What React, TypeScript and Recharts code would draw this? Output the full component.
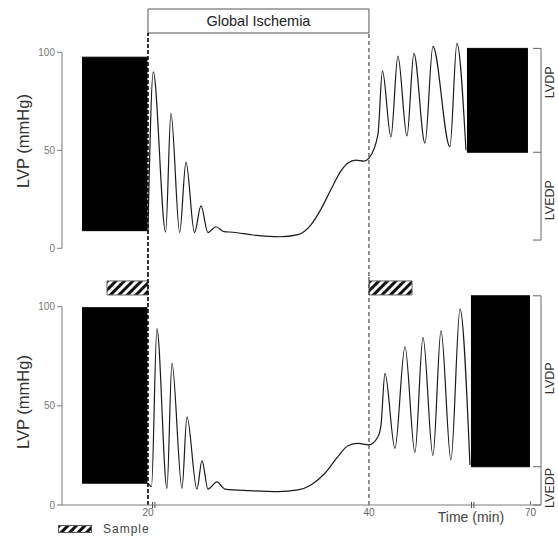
import { Area, ComposedChart, Line, ReferenceArea, ReferenceLine, XAxis, YAxis } from 'recharts';

// Plotted time scale (min). The axis is broken after 40 min, so the "70" tick sits at 54.62 on this scale.
const TIME_DOMAIN: [number, number] = [12.22, 55.57];
const timeTicks = [20, 40, 54.62];
const timeTickLabels = ['20', '40', '70'];
const axisBreaks = [20.52, 49.39];
const lvpTicks = [0, 50, 100];

const ischemia = [20, 40];
const sampleWindows = [
  [16.29, 20],
  [40, 43.9]
];

// dense beating stretches, drawn as a min/max envelope
const topBeatStart = [14.03, 48.87];
const topBeatEnd = [19.95, 54.39];
const topBeatLow = [9, 49];
const topBeatHigh = [97.5, 102];

const bottomBeatStart = [14.03, 49.23];
const bottomBeatEnd = [19.95, 54.57];
const bottomBeatLow = [11, 19.3];
const bottomBeatHigh = [99.5, 105.5];

// single beats through ischemia and early reperfusion (peaks and troughs)
const topTraceTime = [
  20.0, 20.48, 21.6, 22.08, 22.87, 23.44, 24.21, 24.8, 25.43, 26.15, 26.88, 27.69, 29.5, 31.95, 33.57, 34.75,
  35.66, 36.56, 37.47, 38.1, 38.82, 39.55, 40.0, 40.81, 41.22, 41.99, 42.62, 43.44, 44.07, 45.07, 45.79, 47.33,
  47.96, 48.78
];
const topTraceLvp = [
  9, 90, 8.3, 69, 8, 44, 8, 21.6, 8, 11, 8.5, 8.2, 6.8, 5.9, 7, 12, 20, 30, 39.5, 43.5, 45, 44.5, 46, 58, 90.5,
  56.8, 98, 57.3, 99.5, 53.6, 103, 51.8, 104.6, 50
];

const bottomTraceTime = [
  20.0, 20.32, 20.81, 21.72, 22.17, 23.08, 23.53, 24.43, 24.89, 25.43, 26.24, 26.97, 29.23, 31.76, 33.57, 34.75,
  36.02, 37.19, 38.1, 39.0, 40.0, 40.81, 41.09, 41.45, 42.35, 43.26, 44.16, 44.89, 45.79, 46.52, 47.42, 48.24,
  49.14
];
const bottomTraceLvp = [
  11, 9.3, 89, 8.4, 71.5, 8.4, 44.5, 8, 22.4, 8, 11.7, 8, 7.2, 6.7, 7.6, 10.1, 16, 24.4, 29.9, 31.1, 30.3, 34.4,
  40.3, 66.4, 28.6, 79.8, 26.4, 84.5, 24.9, 87.9, 22.7, 98.8, 20.2
];

const FONT = '"Liberation Sans", Arial, Helvetica, sans-serif';
const AXIS_GREY = '#7a7a7a';

function toRows(time: number[], lvp: number[]) {
  return time.map((t, i) => ({ t, lvp: lvp[i] }));
}

function envelopes(start: number[], end: number[], low: number[], high: number[]) {
  return start.map((s, i) => [
    { t: s, lvp: [low[i], high[i]] },
    { t: end[i], lvp: [low[i], high[i]] }
  ]);
}

type PanelProps = {
  top: number;
  height: number;
  marginTop: number;
  yDomain: [number, number];
  trace: { t: number; lvp: number }[];
  beats: { t: number; lvp: number[] }[][];
  bracket: [number, number, number];
  labelShift: [number, number];
  withTimeAxis: boolean;
  boxBottom?: number;
  sampleBar?: [number, number];
  hatchId: string;
};

function Panel(p: PanelProps) {
  const [xMin, xMax] = TIME_DOMAIN;
  const [yMin, yMax] = p.yDomain;
  const [base, edp, sp] = p.bracket;
  const dashTop = p.boxBottom ?? yMax;
  const bracketLabel = { angle: -90, position: 'center' as const, fill: '#333', fontSize: 12.5 };
  return (
    <div style={{ position: 'absolute', left: 0, top: p.top }}>
      <ComposedChart width={558} height={p.height} margin={{ top: p.marginTop, right: 17, bottom: 0, left: 0 }}>
        <defs>
          <pattern id={p.hatchId} width="6" height="6" patternUnits="userSpaceOnUse" patternTransform="rotate(45)">
            <rect width="6" height="6" fill="#fff" />
            <rect width="3" height="6" fill="#111" />
          </pattern>
        </defs>
        <XAxis
          type="number"
          dataKey="t"
          domain={TIME_DOMAIN}
          allowDataOverflow
          hide={!p.withTimeAxis}
          ticks={timeTicks}
          tickFormatter={(v: number) => timeTickLabels[timeTicks.indexOf(v)] ?? ''}
          tick={{ fill: '#666', fontSize: 10 }}
          tickLine={false}
          tickSize={0}
          tickMargin={4}
          axisLine={{ stroke: AXIS_GREY }}
          height={32}
        />
        <YAxis
          type="number"
          domain={p.yDomain}
          allowDataOverflow
          ticks={lvpTicks}
          width={62}
          axisLine={false}
          tickSize={5}
          tickMargin={2}
          tickLine={{ stroke: AXIS_GREY }}
          tick={{ fill: '#777', fontSize: 10 }}
        />
        <ReferenceLine segment={[{ x: xMin, y: 0 }, { x: xMin, y: 100 }]} stroke={AXIS_GREY} ifOverflow="visible" />

        {p.boxBottom !== undefined && (
          <ReferenceArea
            x1={ischemia[0]}
            x2={ischemia[1]}
            y1={p.boxBottom}
            y2={yMax}
            fill="#fff"
            fillOpacity={1}
            stroke="#555"
            ifOverflow="visible"
            label={{ value: 'Global Ischemia', position: 'center', fill: '#222', fontSize: 14.5 }}
          />
        )}
        {p.sampleBar &&
          sampleWindows.map(([a, b]) => (
            <ReferenceArea
              key={a}
              x1={a}
              x2={b}
              y1={p.sampleBar![0]}
              y2={p.sampleBar![1]}
              fill={`url(#${p.hatchId})`}
              fillOpacity={1}
              stroke="#666"
              ifOverflow="visible"
            />
          ))}

        <ReferenceLine
          segment={[{ x: ischemia[0], y: yMin }, { x: ischemia[0], y: dashTop }]}
          stroke="#000"
          strokeWidth={1.6}
          strokeDasharray="4 2"
          ifOverflow="visible"
        />
        <ReferenceLine
          segment={[{ x: ischemia[1], y: yMin }, { x: ischemia[1], y: dashTop }]}
          stroke="#222"
          strokeWidth={1}
          strokeDasharray="4 3"
          ifOverflow="visible"
        />

        {p.beats.map((rows, i) => (
          <Area
            key={i}
            data={rows}
            dataKey="lvp"
            type="linear"
            stroke="#000"
            strokeWidth={1}
            fill="#000"
            fillOpacity={1}
            isAnimationActive={false}
          />
        ))}
        <Line
          data={p.trace}
          dataKey="lvp"
          type="monotone"
          stroke="#1a1a1a"
          strokeWidth={1.2}
          dot={false}
          isAnimationActive={false}
        />

        {/* LVDP / LVEDP bracket on the right */}
        <ReferenceLine segment={[{ x: xMax, y: base }, { x: xMax, y: sp }]} stroke="#666" ifOverflow="visible" />
        {[base, edp, sp].map((v) => (
          <ReferenceLine
            key={v}
            segment={[{ x: xMax - 0.73, y: v }, { x: xMax, y: v }]}
            stroke="#666"
            ifOverflow="visible"
          />
        ))}
        <ReferenceArea
          x1={xMax}
          x2={xMax + 1.5}
          y1={edp}
          y2={sp}
          fill="none"
          stroke="none"
          ifOverflow="visible"
          label={{ ...bracketLabel, value: 'LVDP', dy: p.labelShift[0] }}
        />
        <ReferenceArea
          x1={xMax}
          x2={xMax + 1.5}
          y1={base}
          y2={edp}
          fill="none"
          stroke="none"
          ifOverflow="visible"
          label={{ ...bracketLabel, value: 'LVEDP', dy: p.labelShift[1] }}
        />

        {p.withTimeAxis && (
          <>
            {axisBreaks.flatMap((b) =>
              [b - 0.11, b + 0.11].map((x) => (
                <ReferenceLine
                  key={x}
                  segment={[{ x, y: -1.5 }, { x, y: 1.5 }]}
                  stroke="#444"
                  ifOverflow="visible"
                />
              ))
            )}
            <ReferenceLine
              segment={[{ x: timeTicks[2], y: 0 }, { x: timeTicks[2], y: 2 }]}
              stroke={AXIS_GREY}
              ifOverflow="visible"
            />
          </>
        )}
      </ComposedChart>
    </div>
  );
}

function RotatedText({ x, y, text, size }: { x: number; y: number; text: string; size: number }) {
  return (
    <div
      style={{
        position: 'absolute',
        left: x,
        top: y,
        transform: 'translate(-50%, -50%) rotate(-90deg)',
        whiteSpace: 'nowrap',
        fontSize: size,
        color: '#333'
      }}
    >
      {text}
    </div>
  );
}

export default function App() {
  return (
    <div
      style={{
        position: 'absolute',
        left: 0,
        top: 0,
        width: 558,
        height: 537,
        overflow: 'hidden',
        background: '#fff',
        fontFamily: FONT
      }}
    >
      <Panel
        top={0}
        height={276}
        marginTop={9}
        yDomain={[-14.13, 122.09]}
        trace={toRows(topTraceTime, topTraceLvp)}
        beats={envelopes(topBeatStart, topBeatEnd, topBeatLow, topBeatHigh)}
        bracket={[4.2, topBeatLow[1], topBeatHigh[1]]}
        labelShift={[-18, 4]}
        withTimeAxis={false}
        boxBottom={109.85}
        hatchId="hatchTop"
      />
      <Panel
        top={276}
        height={261}
        marginTop={0}
        yDomain={[0, 115.48]}
        trace={toRows(bottomTraceTime, bottomTraceLvp)}
        beats={envelopes(bottomBeatStart, bottomBeatEnd, bottomBeatLow, bottomBeatHigh)}
        bracket={[0, bottomBeatLow[1], bottomBeatHigh[1]]}
        labelShift={[-3, 2]}
        withTimeAxis
        sampleBar={[105.9, 113]}
        hatchId="hatchBottom"
      />

      <RotatedText x={23} y={141} text="LVP (mmHg)" size={16.5} />
      <RotatedText x={23} y={402} text="LVP (mmHg)" size={16.5} />

      <div
        style={{
          position: 'absolute',
          left: 471,
          top: 517,
          transform: 'translate(-50%, -50%)',
          whiteSpace: 'nowrap',
          fontSize: 14,
          color: '#444'
        }}
      >
        Time (min)
      </div>

      {/* legend */}
      <svg style={{ position: 'absolute', left: 58, top: 525 }} width={34} height={8}>
        <defs>
          <pattern id="hatchLegend" width="6" height="6" patternUnits="userSpaceOnUse" patternTransform="rotate(45)">
            <rect width="6" height="6" fill="#fff" />
            <rect width="3" height="6" fill="#111" />
          </pattern>
        </defs>
        <rect x={0.5} y={0.5} width={33} height={7} fill="url(#hatchLegend)" stroke="#555" />
      </svg>
      <div
        style={{
          position: 'absolute',
          left: 103,
          top: 529,
          transform: 'translateY(-50%)',
          fontSize: 12,
          letterSpacing: 1,
          color: '#444',
          whiteSpace: 'nowrap'
        }}
      >
        Sample
      </div>
    </div>
  );
}
